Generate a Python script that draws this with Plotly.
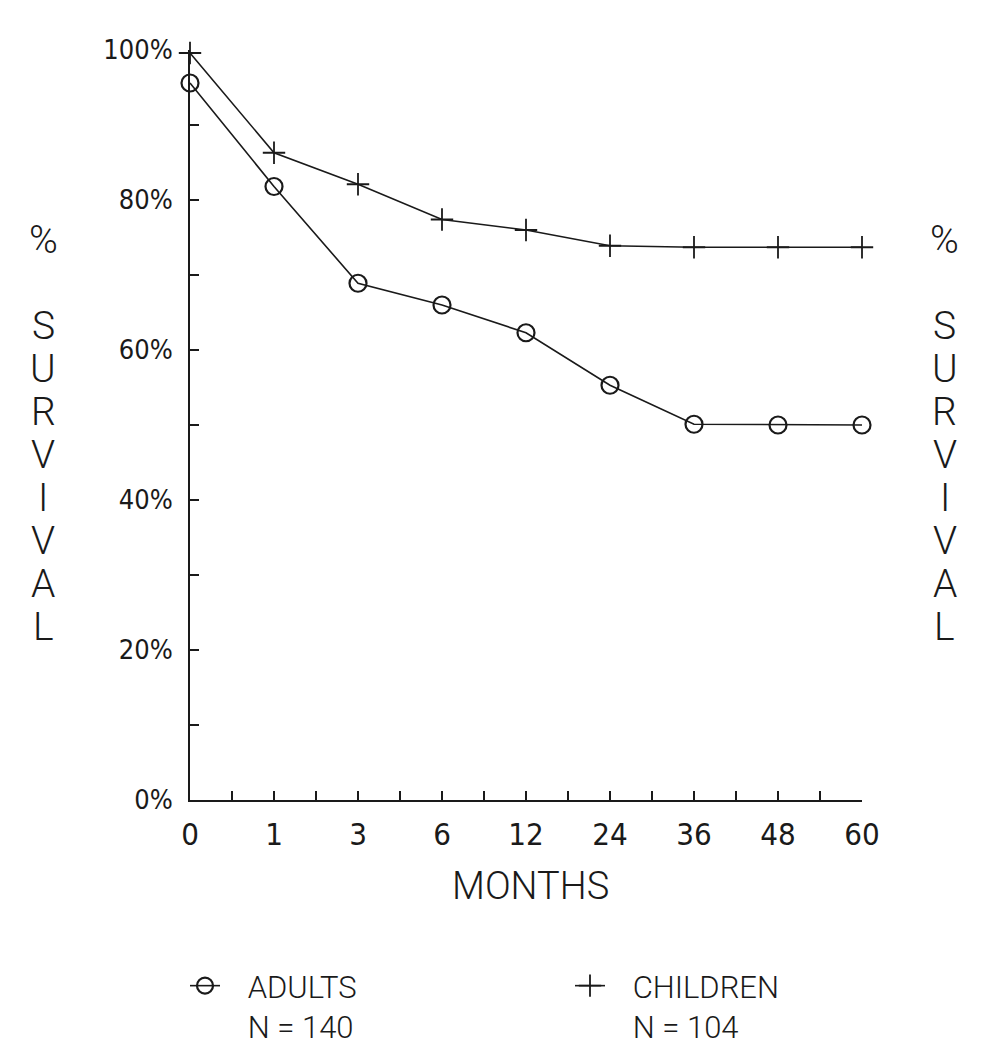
import plotly.graph_objects as go

months = ["0", "1", "3", "6", "12", "24", "36", "48", "60"]
adults = [95.6, 81.8, 68.9, 66.0, 62.3, 55.3, 50.1, 50.0, 50.0]
children = [99.6, 86.3, 82.1, 77.4, 76.0, 73.9, 73.7, 73.7, 73.7]
y_ticks = [0, 20, 40, 60, 80, 100]
y_minor = [10, 30, 50, 70, 90]
title_letters = ["%", "", "S", "U", "R", "V", "I", "V", "A", "L"]

OFF = 8  # default page body margin
W, H = 990 - OFF, 1050 - OFF
L, R, T, B = 182, 128, 42, 250
pw, ph = W - L - R, H - T - B


def px2x(px):
    return (px - OFF - L) / pw


def py2y(py):
    return (H - B - (py - OFF)) / ph


xs = list(range(len(months)))
ink = "#1a1a1a"
num_font = "Liberation Sans Narrow, DejaVu Sans Condensed, Arial Narrow, sans-serif"
txt_font = "Roboto Light, Roboto, DejaVu Sans, sans-serif"
sp3 = "&nbsp;&nbsp;&nbsp;"
sp2 = "&nbsp;&nbsp;&nbsp;"

fig = go.Figure()
fig.add_trace(go.Scatter(
    x=xs, y=adults, mode="lines+markers", name=f"{sp3}ADULTS<br>{sp3}N = 140",
    line=dict(color=ink, width=1.6),
    marker=dict(symbol="circle-open", size=17, color=ink, line=dict(width=2.2, color=ink)),
    cliponaxis=False))
fig.add_trace(go.Scatter(
    x=xs, y=children, mode="lines+markers", name=f"{sp2}CHILDREN<br>{sp2}N = 104",
    line=dict(color=ink, width=1.6),
    marker=dict(symbol="cross-thin", size=16, color=ink, line=dict(width=1.8, color=ink)),
    cliponaxis=False))

xt = [i * 0.5 for i in range(2 * (len(months) - 1) + 1)]
xtt = [months[int(v)] if v == int(v) else "" for v in xt]
yt = sorted(y_ticks + y_minor)
ytt = [f"{v}%" if v in y_ticks else "" for v in yt]

fig.update_xaxes(range=[0, len(months) - 1], tickvals=xt, ticktext=xtt,
                 ticks="inside", ticklen=9, tickwidth=1.5, tickcolor=ink,
                 showline=True, linecolor=ink, linewidth=1.6, showgrid=False,
                 zeroline=False, tickfont=dict(family=num_font, size=31, color=ink),
                 ticklabelstandoff=6, automargin=False)
fig.update_yaxes(range=[0, 100], tickvals=yt, ticktext=ytt,
                 ticks="inside", ticklen=9, tickwidth=1.5, tickcolor=ink,
                 showline=True, linecolor=ink, linewidth=1.6, showgrid=False,
                 zeroline=False, tickfont=dict(family=num_font, size=27, color=ink),
                 ticklabelstandoff=10, automargin=False)

anns = []
for side_px in [43, 945]:
    for i, ch in enumerate(title_letters):
        if not ch:
            continue
        anns.append(dict(x=px2x(side_px), y=py2y(240 + 43 * i), xref="paper", yref="paper",
                         text=ch, showarrow=False, xanchor="center", yanchor="middle",
                         font=dict(family=txt_font, size=39, color=ink)))
anns.append(dict(x=px2x(530), y=py2y(886), xref="paper", yref="paper",
                 text="MONTHS", showarrow=False, xanchor="center", yanchor="middle",
                 font=dict(family=txt_font, size=38, color=ink)))

fig.update_layout(
    width=W, height=H, margin=dict(l=L, r=R, t=T, b=B, autoexpand=False),
    paper_bgcolor="white", plot_bgcolor="white",
    annotations=anns,
    showlegend=True,
    legend=dict(orientation="h", x=px2x(185), y=py2y(959),
                xanchor="left", yanchor="top", valign="top",
                entrywidth=340, entrywidthmode="pixels",
                font=dict(family=txt_font, size=31, color=ink),
                bgcolor="rgba(0,0,0,0)"),
)

fig.write_html("out.html")
